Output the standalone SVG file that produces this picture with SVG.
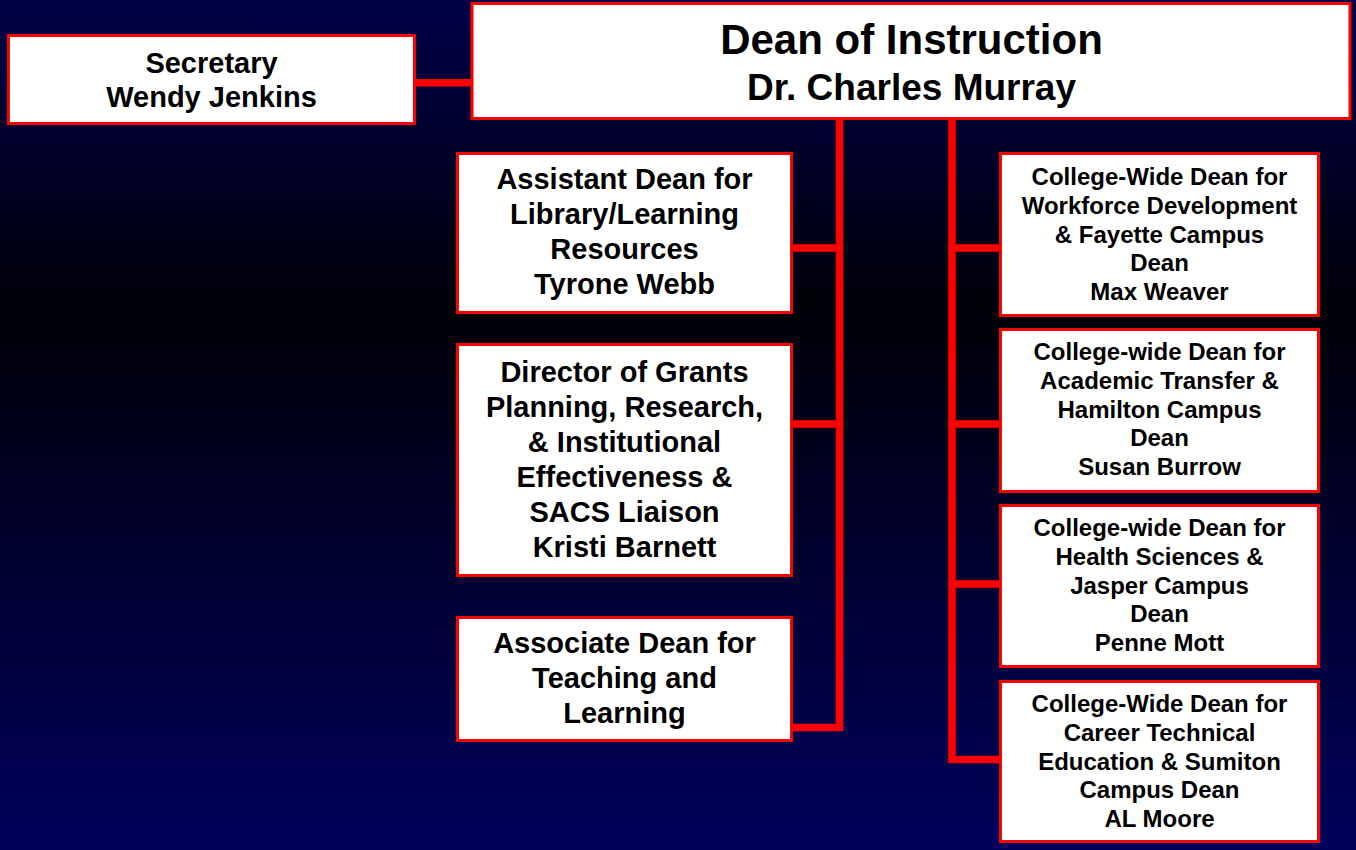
<svg xmlns="http://www.w3.org/2000/svg" width="1356" height="850" viewBox="0 0 1356 850">
<defs>
<linearGradient id="bg" x1="0" y1="0" x2="0" y2="1">
<stop offset="0" stop-color="#000048"/>
<stop offset="0.37" stop-color="#000008"/>
<stop offset="1" stop-color="#00005c"/>
</linearGradient>
<style>
.box{fill:#ffffff;stroke:#ff0000;stroke-width:3}
.conn{fill:none;stroke:#ff0000;stroke-width:7.5;stroke-linejoin:miter;stroke-linecap:butt}
text{font-family:"Liberation Sans",Arial,sans-serif;font-weight:bold;fill:#000000;text-anchor:middle}
.t29{font-size:29px}
.t24{font-size:24px}
</style>
</defs>
<rect x="0" y="0" width="1356" height="850" fill="url(#bg)"/>
<g id="connectors">
<path class="conn" d="M416 82.7 H472"/>
<path class="conn" d="M839.5 118 V727.5 H792"/>
<path class="conn" d="M792 248 H839.5"/>
<path class="conn" d="M792 424 H839.5"/>
<path class="conn" d="M952 118 V759.5 H999"/>
<path class="conn" d="M952 248 H999"/>
<path class="conn" d="M952 424 H999"/>
<path class="conn" d="M952 584 H999"/>
</g>
<g id="secretary">
<rect class="box" x="8.5" y="35.5" width="406" height="88"/>
<text class="t29" x="211.5" y="73">Secretary</text>
<text class="t29" x="211.5" y="107">Wendy Jenkins</text>
</g>
<g id="dean">
<rect class="box" x="472" y="3.5" width="878" height="115"/>
<text x="911.5" y="54" font-size="42">Dean of Instruction</text>
<text x="911.5" y="100" font-size="37">Dr. Charles Murray</text>
</g>
<g id="assistant-dean">
<rect class="box" x="457.5" y="153.5" width="334" height="159"/>
<text class="t29" x="624.5" y="189">Assistant Dean for</text>
<text class="t29" x="624.5" y="224">Library/Learning</text>
<text class="t29" x="624.5" y="259">Resources</text>
<text class="t29" x="624.5" y="294">Tyrone Webb</text>
</g>
<g id="director-grants">
<rect class="box" x="457.5" y="344.5" width="334" height="231"/>
<text class="t29" x="624.5" y="382">Director of Grants</text>
<text class="t29" x="624.5" y="417">Planning, Research,</text>
<text class="t29" x="624.5" y="452">&amp; Institutional</text>
<text class="t29" x="624.5" y="487">Effectiveness &amp;</text>
<text class="t29" x="624.5" y="522">SACS Liaison</text>
<text class="t29" x="624.5" y="557">Kristi Barnett</text>
</g>
<g id="associate-dean">
<rect class="box" x="457.5" y="617.5" width="334" height="123"/>
<text class="t29" x="624.5" y="653">Associate Dean for</text>
<text class="t29" x="624.5" y="688">Teaching and</text>
<text class="t29" x="624.5" y="723">Learning</text>
</g>
<g id="workforce-dean">
<rect class="box" x="1000.5" y="153.5" width="318" height="162"/>
<text class="t24" x="1159.5" y="185">College-Wide Dean for</text>
<text class="t24" x="1159.5" y="213.8">Workforce Development</text>
<text class="t24" x="1159.5" y="242.6">&amp; Fayette Campus</text>
<text class="t24" x="1159.5" y="271.4">Dean</text>
<text class="t24" x="1159.5" y="300.2">Max Weaver</text>
</g>
<g id="academic-dean">
<rect class="box" x="1000.5" y="329.5" width="318" height="162"/>
<text class="t24" x="1159.5" y="360">College-wide Dean for</text>
<text class="t24" x="1159.5" y="388.8">Academic Transfer &amp;</text>
<text class="t24" x="1159.5" y="417.6">Hamilton Campus</text>
<text class="t24" x="1159.5" y="446.4">Dean</text>
<text class="t24" x="1159.5" y="475.2">Susan Burrow</text>
</g>
<g id="health-dean">
<rect class="box" x="1000.5" y="505.5" width="318" height="161"/>
<text class="t24" x="1159.5" y="536">College-wide Dean for</text>
<text class="t24" x="1159.5" y="564.8">Health Sciences &amp;</text>
<text class="t24" x="1159.5" y="593.6">Jasper Campus</text>
<text class="t24" x="1159.5" y="622.4">Dean</text>
<text class="t24" x="1159.5" y="651.2">Penne Mott</text>
</g>
<g id="career-dean">
<rect class="box" x="1000.5" y="681.5" width="318" height="160"/>
<text class="t24" x="1159.5" y="712">College-Wide Dean for</text>
<text class="t24" x="1159.5" y="740.8">Career Technical</text>
<text class="t24" x="1159.5" y="769.6">Education &amp; Sumiton</text>
<text class="t24" x="1159.5" y="798.4">Campus Dean</text>
<text class="t24" x="1159.5" y="827.2">AL Moore</text>
</g>
</svg>
